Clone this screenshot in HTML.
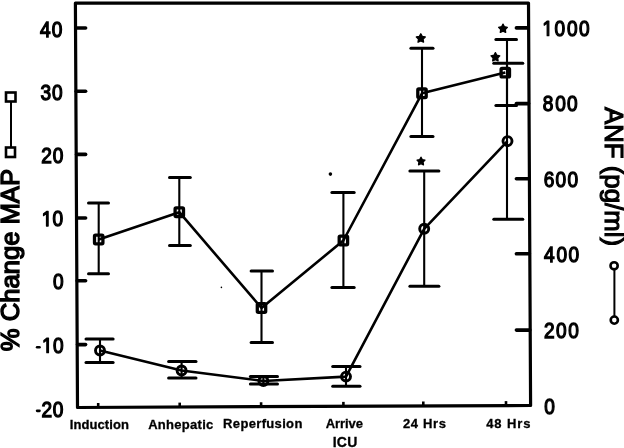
<!DOCTYPE html>
<html><head><meta charset="utf-8"><style>
html,body{margin:0;padding:0;background:#fff;}
svg{display:block;will-change:transform;}
text{font-family:"Liberation Sans",sans-serif;fill:#000;}
</style></head><body>
<svg width="624" height="448" viewBox="0 0 624 448">
<rect width="624" height="448" fill="#fff"/>
<g stroke="#000" fill="none">
<path d="M75.4 3 L528.5 3.1 L530.6 405.5 L77.5 407.5 Z" fill="none" stroke-width="3.2" stroke-linejoin="round"/>
<line x1="75.93" y1="28" x2="85.6" y2="28" stroke-width="3.6" stroke-linecap="round"/>
<line x1="76.26" y1="91.3" x2="85.6" y2="91.3" stroke-width="3.6" stroke-linecap="round"/>
<line x1="76.59" y1="154.4" x2="85.6" y2="154.4" stroke-width="3.6" stroke-linecap="round"/>
<line x1="76.92" y1="218" x2="85.6" y2="218" stroke-width="3.6" stroke-linecap="round"/>
<line x1="77.24" y1="280.8" x2="85.6" y2="280.8" stroke-width="3.6" stroke-linecap="round"/>
<line x1="77.57" y1="344.6" x2="85.6" y2="344.6" stroke-width="3.6" stroke-linecap="round"/>
<line x1="516.4" y1="27.9" x2="528.14" y2="27.9" stroke-width="3.6" stroke-linecap="round"/>
<line x1="516.4" y1="103.6" x2="528.55" y2="103.6" stroke-width="3.6" stroke-linecap="round"/>
<line x1="516.4" y1="178.8" x2="528.96" y2="178.8" stroke-width="3.6" stroke-linecap="round"/>
<line x1="516.4" y1="253.8" x2="529.37" y2="253.8" stroke-width="3.6" stroke-linecap="round"/>
<line x1="516.4" y1="330.1" x2="529.79" y2="330.1" stroke-width="3.6" stroke-linecap="round"/>
<line x1="98.2" y1="407.5" x2="98.2" y2="403" stroke-width="2.6" stroke-linecap="butt"/>
<line x1="179.7" y1="407.12" x2="179.7" y2="402.62" stroke-width="2.6" stroke-linecap="butt"/>
<line x1="261.1" y1="406.75" x2="261.1" y2="402.25" stroke-width="2.6" stroke-linecap="butt"/>
<line x1="343.4" y1="406.37" x2="343.4" y2="401.87" stroke-width="2.6" stroke-linecap="butt"/>
<line x1="423.3" y1="405.99" x2="423.3" y2="401.49" stroke-width="2.6" stroke-linecap="butt"/>
<line x1="506" y1="405.61" x2="506" y2="401.11" stroke-width="2.6" stroke-linecap="butt"/>
<path transform="translate(41.66,226.1) scale(0.00932,-0.01035)" d="M515 0V1237L197 1010V1180L530 1409H696V0Z" fill="#000" stroke="#000" stroke-width="125.6" stroke-linejoin="round"/>
<path transform="translate(42.01,352.7) scale(0.00932,-0.01035)" d="M515 0V1237L197 1010V1180L530 1409H696V0Z" fill="#000" stroke="#000" stroke-width="125.6" stroke-linejoin="round"/>
<path transform="translate(542.36,35.7) scale(0.00932,-0.01035)" d="M515 0V1237L197 1010V1180L530 1409H696V0Z" fill="#000" stroke="#000" stroke-width="125.6" stroke-linejoin="round"/>
<line x1="37.1" y1="347.3" x2="39.5" y2="347.3" stroke-width="2.6" stroke-linecap="round"/>
<line x1="37.1" y1="410.85" x2="39.5" y2="410.85" stroke-width="2.6" stroke-linecap="round"/>
<line x1="11" y1="102" x2="11" y2="147" stroke-width="2" stroke-linecap="butt"/>
<rect x="6" y="92.5" width="9.5" height="9" fill="#fff" stroke-width="2.6"/>
<rect x="6" y="147.5" width="9" height="9.5" fill="#fff" stroke-width="2.6"/>
<line x1="614.4" y1="270" x2="614.4" y2="316" stroke-width="2" stroke-linecap="butt"/>
<circle cx="614.1" cy="265.8" r="3.6" fill="#fff" stroke-width="2.6"/>
<circle cx="614.3" cy="320.1" r="3.6" fill="#fff" stroke-width="2.6"/>
<line x1="98.7" y1="203" x2="98.7" y2="273.8" stroke-width="2.1" stroke-linecap="butt"/>
<line x1="88.5" y1="203" x2="108.5" y2="203" stroke-width="3" stroke-linecap="round"/>
<line x1="88.5" y1="273.8" x2="108.5" y2="273.8" stroke-width="3" stroke-linecap="round"/>
<line x1="179.3" y1="177.6" x2="179.3" y2="245.4" stroke-width="2.1" stroke-linecap="butt"/>
<line x1="169.5" y1="177.6" x2="190.3" y2="177.6" stroke-width="3" stroke-linecap="round"/>
<line x1="169.5" y1="245.4" x2="190.3" y2="245.4" stroke-width="3" stroke-linecap="round"/>
<line x1="261.5" y1="271" x2="261.5" y2="342.4" stroke-width="2.1" stroke-linecap="butt"/>
<line x1="251.1" y1="271" x2="272.5" y2="271" stroke-width="3" stroke-linecap="round"/>
<line x1="251.1" y1="342.4" x2="272.5" y2="342.4" stroke-width="3" stroke-linecap="round"/>
<line x1="343.4" y1="192.5" x2="343.4" y2="287.5" stroke-width="2.1" stroke-linecap="butt"/>
<line x1="331.9" y1="192.5" x2="354.2" y2="192.5" stroke-width="3" stroke-linecap="round"/>
<line x1="331.9" y1="287.5" x2="354.2" y2="287.5" stroke-width="3" stroke-linecap="round"/>
<line x1="422" y1="48.3" x2="422" y2="136.5" stroke-width="2.1" stroke-linecap="butt"/>
<line x1="410.9" y1="48.3" x2="433" y2="48.3" stroke-width="3" stroke-linecap="round"/>
<line x1="410.9" y1="136.5" x2="433" y2="136.5" stroke-width="3" stroke-linecap="round"/>
<line x1="507" y1="39.5" x2="507" y2="105.6" stroke-width="2.1" stroke-linecap="butt"/>
<line x1="495.9" y1="39.5" x2="516.5" y2="39.5" stroke-width="3" stroke-linecap="round"/>
<line x1="495.9" y1="105.6" x2="516.5" y2="105.6" stroke-width="3" stroke-linecap="round"/>
<line x1="100" y1="338.9" x2="100" y2="362.6" stroke-width="2.1" stroke-linecap="butt"/>
<line x1="86" y1="338.9" x2="113.1" y2="338.9" stroke-width="3" stroke-linecap="round"/>
<line x1="86" y1="362.6" x2="113.1" y2="362.6" stroke-width="3" stroke-linecap="round"/>
<line x1="181.6" y1="361.6" x2="181.6" y2="378.1" stroke-width="2.1" stroke-linecap="butt"/>
<line x1="168.6" y1="361.6" x2="196" y2="361.6" stroke-width="3" stroke-linecap="round"/>
<line x1="168.6" y1="378.1" x2="196" y2="378.1" stroke-width="3" stroke-linecap="round"/>
<line x1="263.4" y1="376.5" x2="263.4" y2="383.9" stroke-width="2.1" stroke-linecap="butt"/>
<line x1="250.4" y1="376.5" x2="277.5" y2="376.5" stroke-width="3" stroke-linecap="round"/>
<line x1="250.4" y1="383.9" x2="277.5" y2="383.9" stroke-width="3" stroke-linecap="round"/>
<line x1="346" y1="366.6" x2="346" y2="386.25" stroke-width="2.1" stroke-linecap="butt"/>
<line x1="332.7" y1="366.6" x2="360" y2="366.6" stroke-width="3" stroke-linecap="round"/>
<line x1="332.7" y1="386.25" x2="360" y2="386.25" stroke-width="3" stroke-linecap="round"/>
<line x1="424.2" y1="171.1" x2="424.2" y2="286.3" stroke-width="2.1" stroke-linecap="butt"/>
<line x1="409.9" y1="171.1" x2="438.9" y2="171.1" stroke-width="3" stroke-linecap="round"/>
<line x1="409.9" y1="286.3" x2="438.9" y2="286.3" stroke-width="3" stroke-linecap="round"/>
<line x1="507" y1="63.3" x2="507" y2="219.2" stroke-width="2.1" stroke-linecap="butt"/>
<line x1="493.8" y1="63.3" x2="522.8" y2="63.3" stroke-width="3" stroke-linecap="round"/>
<line x1="493.8" y1="219.2" x2="522.8" y2="219.2" stroke-width="3" stroke-linecap="round"/>
<polyline fill="none" stroke-width="2.6" stroke-linejoin="round" points="98.7,239.5 179.3,212.2 261.5,308 343.4,240.5 422,93.3 505.3,72.6"/>
<polyline fill="none" stroke-width="2.6" stroke-linejoin="round" points="100,350.5 181.6,370.5 263.4,381 346,376.6 424.2,228.8 507.5,141.1"/>
<rect x="94.5" y="235.2" width="8.4" height="8.6" rx="1" fill="none" stroke-width="3.3"/>
<rect x="175.10000000000002" y="207.89999999999998" width="8.4" height="8.6" rx="1" fill="none" stroke-width="3.3"/>
<rect x="257.3" y="303.7" width="8.4" height="8.6" rx="1" fill="none" stroke-width="3.3"/>
<rect x="339.2" y="236.2" width="8.4" height="8.6" rx="1" fill="none" stroke-width="3.3"/>
<rect x="417.8" y="89.0" width="8.4" height="8.6" rx="1" fill="none" stroke-width="3.3"/>
<rect x="501.1" y="68.3" width="8.4" height="8.6" rx="1" fill="none" stroke-width="3.3"/>
<circle cx="100" cy="350.5" r="4.5" fill="none" stroke-width="2.9"/>
<circle cx="181.6" cy="370.5" r="4.5" fill="none" stroke-width="2.9"/>
<circle cx="263.4" cy="381" r="4.5" fill="none" stroke-width="2.9"/>
<circle cx="346" cy="376.6" r="4.5" fill="none" stroke-width="2.9"/>
<circle cx="424.2" cy="228.8" r="4.5" fill="none" stroke-width="2.9"/>
<circle cx="507.5" cy="141.1" r="4.5" fill="none" stroke-width="2.9"/>
<polygon points="420.80,33.70 422.24,36.42 425.27,36.95 423.12,39.16 423.56,42.20 420.80,40.84 418.04,42.20 418.48,39.16 416.33,36.95 419.36,36.42" fill="#000" stroke="#000" stroke-width="1.3" stroke-linejoin="round"/>
<polygon points="421.00,157.20 422.28,159.63 424.99,160.10 423.08,162.07 423.47,164.80 421.00,163.58 418.53,164.80 418.92,162.07 417.01,160.10 419.72,159.63" fill="#000" stroke="#000" stroke-width="1.3" stroke-linejoin="round"/>
<polygon points="503.00,24.10 504.41,26.76 507.37,27.28 505.27,29.44 505.70,32.42 503.00,31.09 500.30,32.42 500.73,29.44 498.63,27.28 501.59,26.76" fill="#000" stroke="#000" stroke-width="1.3" stroke-linejoin="round"/>
<polygon points="495.40,52.60 496.81,55.26 499.77,55.78 497.67,57.94 498.10,60.92 495.40,59.59 492.70,60.92 493.13,57.94 491.03,55.78 493.99,55.26" fill="#000" stroke="#000" stroke-width="1.3" stroke-linejoin="round"/>
<circle cx="330.4" cy="174.1" r="1.8" fill="#000" stroke="none"/>
<circle cx="221.4" cy="287.4" r="0.8" fill="#000" stroke="none"/>
</g>
<g>
<text transform="translate(45.3,36.6) scale(0.9,1)" font-size="21.2" text-anchor="middle" stroke="#000" stroke-width="1.3">4</text>
<text transform="translate(57.1,36.6) scale(0.9,1)" font-size="21.2" text-anchor="middle" stroke="#000" stroke-width="1.3">0</text>
<text transform="translate(45.8,99.6) scale(0.9,1)" font-size="21.2" text-anchor="middle" stroke="#000" stroke-width="1.3">3</text>
<text transform="translate(57.35,99.6) scale(0.9,1)" font-size="21.2" text-anchor="middle" stroke="#000" stroke-width="1.3">0</text>
<text transform="translate(46.45,162.6) scale(0.9,1)" font-size="21.2" text-anchor="middle" stroke="#000" stroke-width="1.3">2</text>
<text transform="translate(57.95,162.6) scale(0.9,1)" font-size="21.2" text-anchor="middle" stroke="#000" stroke-width="1.3">0</text>
<text transform="translate(57.85,226.1) scale(0.9,1)" font-size="21.2" text-anchor="middle" stroke="#000" stroke-width="1.3">0</text>
<text transform="translate(58.2,289.4) scale(0.9,1)" font-size="21.2" text-anchor="middle" stroke="#000" stroke-width="1.3">0</text>
<text transform="translate(58.4,352.7) scale(0.9,1)" font-size="21.2" text-anchor="middle" stroke="#000" stroke-width="1.3">0</text>
<text transform="translate(46.85,416.5) scale(0.9,1)" font-size="21.2" text-anchor="middle" stroke="#000" stroke-width="1.3">2</text>
<text transform="translate(58.05,416.5) scale(0.9,1)" font-size="21.2" text-anchor="middle" stroke="#000" stroke-width="1.3">0</text>
<text transform="translate(559.8,35.7) scale(0.9,1)" font-size="21.2" text-anchor="middle" stroke="#000" stroke-width="1.3">0</text>
<text transform="translate(572.3,35.7) scale(0.9,1)" font-size="21.2" text-anchor="middle" stroke="#000" stroke-width="1.3">0</text>
<text transform="translate(584.2,35.7) scale(0.9,1)" font-size="21.2" text-anchor="middle" stroke="#000" stroke-width="1.3">0</text>
<text transform="translate(548.1,111.2) scale(0.9,1)" font-size="21.2" text-anchor="middle" stroke="#000" stroke-width="1.3">8</text>
<text transform="translate(560.5,111.2) scale(0.9,1)" font-size="21.2" text-anchor="middle" stroke="#000" stroke-width="1.3">0</text>
<text transform="translate(572.3,111.2) scale(0.9,1)" font-size="21.2" text-anchor="middle" stroke="#000" stroke-width="1.3">0</text>
<text transform="translate(549.1,186.5) scale(0.9,1)" font-size="21.2" text-anchor="middle" stroke="#000" stroke-width="1.3">6</text>
<text transform="translate(560.9,186.5) scale(0.9,1)" font-size="21.2" text-anchor="middle" stroke="#000" stroke-width="1.3">0</text>
<text transform="translate(572.9,186.5) scale(0.9,1)" font-size="21.2" text-anchor="middle" stroke="#000" stroke-width="1.3">0</text>
<text transform="translate(549.4,261.7) scale(0.9,1)" font-size="21.2" text-anchor="middle" stroke="#000" stroke-width="1.3">4</text>
<text transform="translate(561.8,261.7) scale(0.9,1)" font-size="21.2" text-anchor="middle" stroke="#000" stroke-width="1.3">0</text>
<text transform="translate(573.8,261.7) scale(0.9,1)" font-size="21.2" text-anchor="middle" stroke="#000" stroke-width="1.3">0</text>
<text transform="translate(549.3,337.7) scale(0.9,1)" font-size="21.2" text-anchor="middle" stroke="#000" stroke-width="1.3">2</text>
<text transform="translate(561.3,337.7) scale(0.9,1)" font-size="21.2" text-anchor="middle" stroke="#000" stroke-width="1.3">0</text>
<text transform="translate(573.45,337.7) scale(0.9,1)" font-size="21.2" text-anchor="middle" stroke="#000" stroke-width="1.3">0</text>
<text transform="translate(549.5,413.7) scale(0.9,1)" font-size="21.2" text-anchor="middle" stroke="#000" stroke-width="1.3">0</text>
<text x="69.78" y="429.2" font-size="13" text-anchor="start" font-weight="bold" stroke="#000" stroke-width="0.3" letter-spacing="0.086">Induction</text>
<text x="148.13" y="428.9" font-size="13" text-anchor="start" font-weight="bold" stroke="#000" stroke-width="0.3" letter-spacing="0.295">Anhepatic</text>
<text x="223.08" y="428.3" font-size="13" text-anchor="start" font-weight="bold" stroke="#000" stroke-width="0.3" letter-spacing="0.343">Reperfusion</text>
<text x="325.83" y="427.8" font-size="13" text-anchor="start" font-weight="bold" stroke="#000" stroke-width="0.3" letter-spacing="-0.102">Arrive</text>
<text x="332.7" y="446.8" font-size="14" text-anchor="start" font-weight="bold" stroke="#000" stroke-width="0.3" letter-spacing="0.25">ICU</text>
<text x="402.9" y="428.0" font-size="13" text-anchor="start" font-weight="bold" stroke="#000" stroke-width="0.3" letter-spacing="0.647">24 Hrs</text>
<text x="486.2" y="428.0" font-size="13" text-anchor="start" font-weight="bold" stroke="#000" stroke-width="0.3" letter-spacing="0.886">48 Hrs</text>
<text transform="translate(19.2,260.1) rotate(-90)" font-size="25.6" text-anchor="middle" font-weight="normal" stroke="#000" stroke-width="1.4">% Change MAP</text>
<text transform="translate(605.2,176.5) rotate(90)" font-size="25.8" text-anchor="middle" font-weight="normal" stroke="#000" stroke-width="1.15">ANF (pg/ml)</text>
</g>
</svg>
</body></html>
